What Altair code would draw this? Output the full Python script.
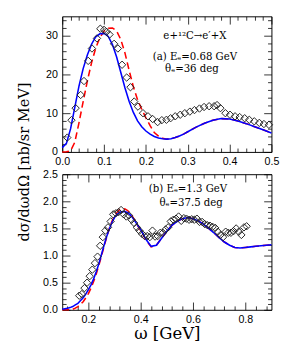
import altair as alt
import pandas as pd

# ---------------- panel (a): E_e = 0.68 GeV ----------------
a_data_x = [0.012, 0.022, 0.032, 0.044, 0.052, 0.062, 0.071, 0.083, 0.091, 0.100, 0.106, 0.113,
            0.124, 0.133, 0.143, 0.154, 0.163, 0.172, 0.181, 0.193, 0.205, 0.216, 0.228, 0.238,
            0.249, 0.259, 0.270, 0.282, 0.293, 0.305, 0.316, 0.328, 0.339, 0.351, 0.363, 0.370,
            0.378, 0.390, 0.401, 0.413, 0.424, 0.436, 0.447, 0.459, 0.471, 0.482, 0.494]
a_data_y = [3.7, 8.2, 11.3, 14.7, 18.3, 23.5, 26.7, 29.3, 31.8, 31.5, 31.0, 30.3,
            27.9, 26.7, 22.5, 19.2, 16.7, 13.0, 11.7, 10.0, 9.2, 8.5, 7.7, 8.2,
            8.3, 8.7, 9.2, 9.6, 10.0, 10.4, 10.8, 11.2, 11.6, 11.8, 11.8, 12.1,
            11.3, 10.0, 9.6, 9.2, 9.0, 8.7, 8.3, 7.9, 7.5, 7.2, 7.0]

a_curve_x = [0.00, 0.01, 0.02, 0.03, 0.04, 0.05, 0.06, 0.07, 0.08, 0.09, 0.10, 0.11, 0.12, 0.13,
             0.14, 0.15, 0.16, 0.17, 0.18, 0.19, 0.20, 0.21, 0.22, 0.23, 0.24, 0.25, 0.26, 0.27,
             0.28, 0.29, 0.30, 0.32, 0.34, 0.36, 0.38, 0.40, 0.42, 0.44, 0.46, 0.48, 0.50]
a_blue_y = [1.1, 2.2, 6.0, 11.5, 17.0, 21.5, 25.0, 27.8, 29.7, 30.5, 30.6, 29.8, 27.7, 24.5,
            20.5, 16.5, 13.0, 10.2, 8.0, 6.5, 5.4, 4.6, 4.0, 3.6, 3.4, 3.3, 3.4, 3.7,
            4.1, 4.6, 5.2, 6.4, 7.4, 8.2, 8.6, 8.5, 8.0, 7.3, 6.5, 5.7, 4.9]
a_red_y = [0.0, 0.05, 0.3, 2.5, 7.5, 13.0, 18.3, 23.0, 26.8, 29.5, 31.2, 31.9, 32.0, 31.2,
           29.0, 25.5, 21.0, 16.8, 13.5, 11.0, 8.8, 6.8, 5.0, 4.1, 3.5, 3.3, 3.4, 3.7,
           4.1, 4.6, 5.2, 6.4, 7.4, 8.2, 8.6, 8.5, 8.0, 7.3, 6.5, 5.7, 4.9]

# ---------------- panel (b): E_e = 1.3 GeV ----------------
b_data_x = [0.165, 0.175, 0.185, 0.195, 0.205, 0.215, 0.225, 0.235, 0.245, 0.255, 0.265, 0.275,
            0.285, 0.295, 0.305, 0.315, 0.325, 0.335, 0.345, 0.355, 0.365, 0.375, 0.385, 0.395,
            0.405, 0.415, 0.425, 0.435, 0.445, 0.455, 0.465, 0.475, 0.485, 0.495, 0.505, 0.515,
            0.525, 0.535, 0.545, 0.555, 0.565, 0.575, 0.585, 0.595, 0.605, 0.615, 0.625, 0.635,
            0.645, 0.655, 0.665, 0.675, 0.685, 0.695, 0.705, 0.715, 0.725, 0.735, 0.745, 0.755,
            0.765, 0.775, 0.785, 0.795, 0.805]
b_data_y = [0.26, 0.29, 0.40, 0.50, 0.62, 0.74, 0.86, 0.98, 1.18, 1.34, 1.46, 1.52,
            1.63, 1.76, 1.78, 1.80, 1.84, 1.76, 1.72, 1.74, 1.66, 1.60, 1.52, 1.46,
            1.40, 1.36, 1.36, 1.34, 1.46, 1.35, 1.36, 1.42, 1.42, 1.48, 1.52, 1.63,
            1.66, 1.68, 1.72, 1.64, 1.69, 1.68, 1.66, 1.67, 1.66, 1.68, 1.62, 1.62,
            1.58, 1.56, 1.55, 1.53, 1.51, 1.44, 1.38, 1.34, 1.44, 1.42, 1.42, 1.45,
            1.50, 1.44, 1.38, 1.52, 1.54]

b_curve_x = [0.10, 0.11, 0.12, 0.13, 0.14, 0.15, 0.16, 0.17, 0.18, 0.19, 0.20, 0.21, 0.22,
             0.23, 0.24, 0.25, 0.26, 0.27, 0.28, 0.29, 0.30, 0.31, 0.32, 0.33, 0.34, 0.35,
             0.36, 0.37, 0.38, 0.39, 0.40, 0.42, 0.44, 0.46, 0.48, 0.50, 0.52, 0.54, 0.56,
             0.58, 0.60, 0.62, 0.64, 0.66, 0.68, 0.70, 0.72, 0.74, 0.76, 0.78, 0.80, 0.82,
             0.84, 0.86, 0.88, 0.90]
b_blue_y = [0.01, 0.02, 0.03, 0.04, 0.06, 0.09, 0.12, 0.17, 0.22, 0.29, 0.37, 0.46, 0.57,
            0.70, 0.85, 1.02, 1.19, 1.35, 1.49, 1.61, 1.70, 1.76, 1.80, 1.81, 1.81, 1.79,
            1.75, 1.69, 1.62, 1.55, 1.48, 1.30, 1.17, 1.19, 1.32, 1.45, 1.56, 1.63, 1.68,
            1.70, 1.68, 1.64, 1.58, 1.50, 1.42, 1.33, 1.25, 1.19, 1.15, 1.14, 1.15, 1.16,
            1.17, 1.18, 1.19, 1.20]
b_red_y = [0.0, 0.0, 0.0, 0.0, 0.01, 0.03, 0.06, 0.10, 0.15, 0.22, 0.30, 0.40, 0.52,
           0.66, 0.82, 0.99, 1.17, 1.34, 1.50, 1.63, 1.73, 1.80, 1.85, 1.87, 1.86, 1.83,
           1.78, 1.71, 1.63, 1.54, 1.46, 1.29, 1.16, 1.19, 1.32, 1.45, 1.56, 1.63, 1.68,
           1.70, 1.68, 1.64, 1.58, 1.50, 1.42, 1.33, 1.25, 1.19, 1.15, 1.14, 1.15, 1.16,
           1.17, 1.18, 1.19, 1.20]

# ---------------- axes / ticks ----------------
a_x_labels = [0.0, 0.1, 0.2, 0.3, 0.4, 0.5]
a_x_major = [0.0, 0.1, 0.2, 0.3, 0.4, 0.5]
a_x_minor = [0.02, 0.04, 0.06, 0.08, 0.12, 0.14, 0.16, 0.18, 0.22, 0.24, 0.26, 0.28,
             0.32, 0.34, 0.36, 0.38, 0.42, 0.44, 0.46, 0.48]
a_y_labels = [0, 10, 20, 30]
a_y_major = [0, 10, 20, 30]
a_y_minor = [2, 4, 6, 8, 12, 14, 16, 18, 22, 24, 26, 28, 32, 34]

b_x_labels = [0.2, 0.4, 0.6, 0.8]
b_x_major = [0.2, 0.4, 0.6, 0.8]
b_x_minor = [0.12, 0.16, 0.24, 0.28, 0.32, 0.36, 0.44, 0.48, 0.52, 0.56, 0.64, 0.68,
             0.72, 0.76, 0.84, 0.88]
b_y_labels = [0.0, 0.5, 1.0, 1.5, 2.0, 2.5]
b_y_major = [0.0, 0.5, 1.0, 1.5, 2.0, 2.5]
b_y_minor = [0.1, 0.2, 0.3, 0.4, 0.6, 0.7, 0.8, 0.9, 1.1, 1.2, 1.3, 1.4, 1.6, 1.7, 1.8,
             1.9, 2.1, 2.2, 2.3, 2.4]

a_notes_main = ["e+\u00b9\u00b2C\u2192e\u2032+X", "(a) E\u2091=0.68 GeV"]
a_notes_theta = ["\u03b8\u2091=36 deg"]
b_notes_main = ["(b) E\u2091=1.3 GeV"]
b_notes_theta = ["\u03b8\u2091=37.5 deg"]

Y_TITLE = "d\u03c3/d\u03c9d\u03a9 [nb/sr MeV]"
X_TITLE = "\u03c9\u00a0[GeV]"

LABEL_FONT = "Liberation Sans"
SERIF = "DejaVu Serif"
W, H = 216, 140
MAJ, MIN = 8, 4


def tick_axis(orient, vals, size):
    return alt.Axis(orient=orient, values=vals, tickSize=size, offset=-size, labels=False,
                    domain=False, grid=False, title=None, ticks=True, tickColor="black",
                    tickWidth=0.8)


def panel(px, py, cx, blue_y, red_y, xdom, ydom, xlab, xmaj, xmin, ylab, ymaj, ymin,
          xfmt, yfmt, notes_main, main_pos, notes_theta, theta_pos, ytitle=False, xtitle=False):
    xs = alt.Scale(domain=xdom, nice=False, zero=False)
    ys = alt.Scale(domain=ydom, nice=False, zero=False)

    xkw = dict(orient="bottom", values=xlab, format=xfmt, ticks=False, domain=False, grid=False,
               labelPadding=4, labelFont=LABEL_FONT, labelFontSize=11, labelColor="black",
               labelFlush=False, labelOverlap=False)
    if xtitle:
        xkw.update(title=X_TITLE, titleFont=SERIF, titleFontSize=17, titleFontWeight="normal",
                   titleColor="black", titlePadding=2)
    else:
        xkw.update(title=None)
    ykw = dict(orient="left", values=ylab, format=yfmt, ticks=False, domain=False, grid=False,
               labelPadding=5, labelFont=LABEL_FONT, labelFontSize=11, labelColor="black",
               labelFlush=False, labelOverlap=False)
    if ytitle:
        ykw.update(title=Y_TITLE, titleFont=SERIF, titleFontSize=15, titleFontWeight="normal",
                   titleColor="black", titleX=-40, titleY=150, titleAngle=270,
                   titleAlign="center", titleBaseline="middle")
    else:
        ykw.update(title=None)

    curves = pd.DataFrame({"x": cx, "blue": blue_y, "red": red_y})
    pts = pd.DataFrame({"x": px, "y": py})

    red = alt.Chart(curves).mark_line(color="#ff0000", strokeWidth=1.6, strokeDash=[7, 4]).encode(
        x=alt.X("x:Q", scale=xs, axis=tick_axis("bottom", xmaj, MAJ)),
        y=alt.Y("red:Q", scale=ys, axis=tick_axis("left", ymaj, MAJ)),
    )
    blue = alt.Chart(curves).mark_line(color="#0000ff", strokeWidth=1.6).encode(
        x=alt.X("x:Q", scale=xs, axis=tick_axis("bottom", xmin, MIN)),
        y=alt.Y("blue:Q", scale=ys, axis=tick_axis("left", ymin, MIN)),
    )
    points = alt.Chart(pts).mark_point(shape="diamond", filled=False, size=58, color="#222222",
                                       strokeWidth=1.0, opacity=1).encode(
        x=alt.X("x:Q", scale=xs, axis=alt.Axis(**xkw)),
        y=alt.Y("y:Q", scale=ys, axis=alt.Axis(**ykw)),
    )
    n1 = pd.DataFrame({"x": [p[0] for p in main_pos], "y": [p[1] for p in main_pos],
                       "t": notes_main})
    n2 = pd.DataFrame({"x": [p[0] for p in theta_pos], "y": [p[1] for p in theta_pos],
                       "t": notes_theta})
    txt1 = alt.Chart(n1).mark_text(font=SERIF, fontSize=10.5, color="black", align="center",
                                   baseline="middle").encode(
        x=alt.X("x:Q", scale=xs, axis=tick_axis("top", xmaj, MAJ)),
        y=alt.Y("y:Q", scale=ys, axis=tick_axis("right", ymaj, MAJ)),
        text="t:N",
    )
    txt2 = alt.Chart(n2).mark_text(font=SERIF, fontSize=10.5, color="black", align="center",
                                   baseline="middle").encode(
        x=alt.X("x:Q", scale=xs, axis=tick_axis("top", xmin, MIN)),
        y=alt.Y("y:Q", scale=ys, axis=tick_axis("right", ymin, MIN)),
        text="t:N",
    )
    return alt.layer(red, blue, points, txt1, txt2).resolve_axis(
        x="independent", y="independent").properties(width=W, height=H)


top = panel(a_data_x, a_data_y, a_curve_x, a_blue_y, a_red_y, [0.0, 0.5], [0, 35],
            a_x_labels, a_x_major, a_x_minor, a_y_labels, a_y_major, a_y_minor,
            ".1f", "d", a_notes_main, [(0.317, 30.0), (0.317, 24.6)], a_notes_theta,
            [(0.31, 21.3)], ytitle=True)
bottom = panel(b_data_x, b_data_y, b_curve_x, b_blue_y, b_red_y, [0.1, 0.9], [0, 2.5],
               b_x_labels, b_x_major, b_x_minor, b_y_labels, b_y_major, b_y_minor,
               ".1f", ".1f", b_notes_main, [(0.581, 2.23)], b_notes_theta,
               [(0.593, 1.96)], xtitle=True)

chart = alt.vconcat(top, bottom, spacing=23, bounds="flush").properties(
    padding={"left": 8, "top": 2, "right": 5, "bottom": 5}
).configure_view(stroke="black", strokeWidth=1)

chart.save("out.html", embed_options={"renderer": "svg", "actions": False})
